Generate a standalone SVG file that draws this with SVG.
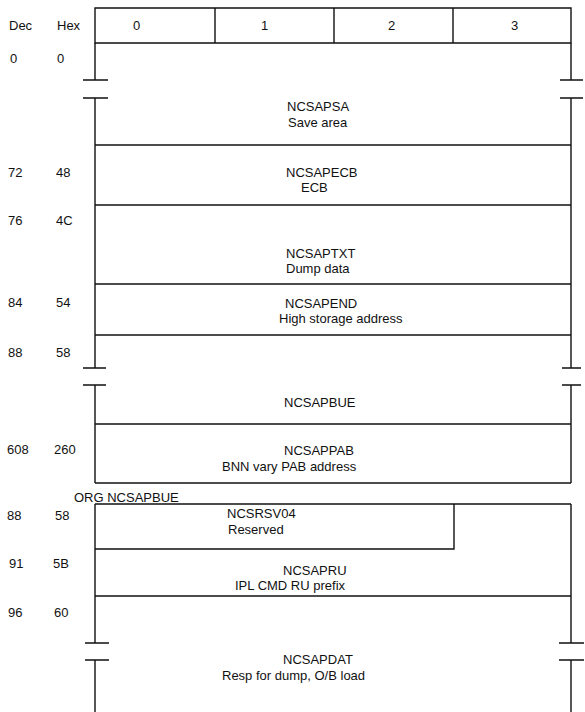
<svg xmlns="http://www.w3.org/2000/svg" width="585" height="712" viewBox="0 0 585 712">
<style>
text{font-family:"Liberation Sans",Arial,sans-serif;font-size:13px;fill:#111}
.ln{stroke:#111;stroke-width:1.4;fill:none}
</style>
<rect width="585" height="712" fill="#fff"/>
<g id="offsets">
<text x="9" y="30">Dec</text><text x="57" y="30">Hex</text>
<text x="10" y="63">0</text><text x="57" y="63">0</text>
<text x="8" y="177">72</text><text x="56" y="177">48</text>
<text x="8" y="225">76</text><text x="56" y="225">4C</text>
<text x="8" y="307">84</text><text x="56" y="307">54</text>
<text x="8" y="357">88</text><text x="56" y="357">58</text>
<text x="7" y="454">608</text><text x="54" y="454">260</text>
<text x="7" y="520">88</text><text x="55" y="520">58</text>
<text x="9" y="568">91</text><text x="53" y="568">5B</text>
<text x="8" y="617">96</text><text x="54" y="617">60</text>
</g>
<g id="header">
<path class="ln" d="M95 8H571V43H95ZM215 8V43M334 8V43M453 8V43"/>
<text x="133" y="30">0</text><text x="261" y="30">1</text><text x="388" y="30">2</text><text x="511" y="30">3</text>
</g>
<g id="connectors">
<path class="ln" d="M95 43V80M571 43V80M83 80H108M83 98H108M560 80H583M560 98H583M95 98V368M571 98V368M83 368H106M83 385H106M562 368H581M562 385H581M95 385V483M571 385V483"/>
<path class="ln" d="M95 504V643M571 504V643M85 643H109M85 660H109M559 643H584M559 660H584M95 660V712M571 660V712"/>
</g>
<g id="NCSAPSA">
<path class="ln" d="M95 145H571"/>
<text x="287" y="111">NCSAPSA</text><text x="288" y="127">Save area</text>
</g>
<g id="NCSAPECB">
<path class="ln" d="M95 205H571"/>
<text x="286" y="177">NCSAPECB</text><text x="301" y="192">ECB</text>
</g>
<g id="NCSAPTXT">
<path class="ln" d="M95 284H571"/>
<text x="286" y="258">NCSAPTXT</text><text x="286" y="273">Dump data</text>
</g>
<g id="NCSAPEND">
<path class="ln" d="M95 335H571"/>
<text x="285" y="308">NCSAPEND</text><text x="279" y="323">High storage address</text>
</g>
<g id="NCSAPBUE">
<path class="ln" d="M95 424H571"/>
<text x="284" y="407">NCSAPBUE</text>
</g>
<g id="NCSAPPAB">
<path class="ln" d="M95 483H571"/>
<text x="284" y="455">NCSAPPAB</text><text x="222" y="471">BNN vary PAB address</text>
</g>
<g id="ORG">
<text x="74" y="502">ORG NCSAPBUE</text>
<path class="ln" d="M95 504H571"/>
</g>
<g id="NCSRSV04">
<path class="ln" d="M95 549H454V504"/>
<text x="227" y="518">NCSRSV04</text><text x="228" y="534">Reserved</text>
</g>
<g id="NCSAPRU">
<path class="ln" d="M95 596H571"/>
<text x="283" y="575">NCSAPRU</text><text x="235" y="590">IPL CMD RU prefix</text>
</g>
<g id="NCSAPDAT">
<text x="283" y="664">NCSAPDAT</text><text x="222" y="680">Resp for dump, O/B load</text>
</g>
</svg>
